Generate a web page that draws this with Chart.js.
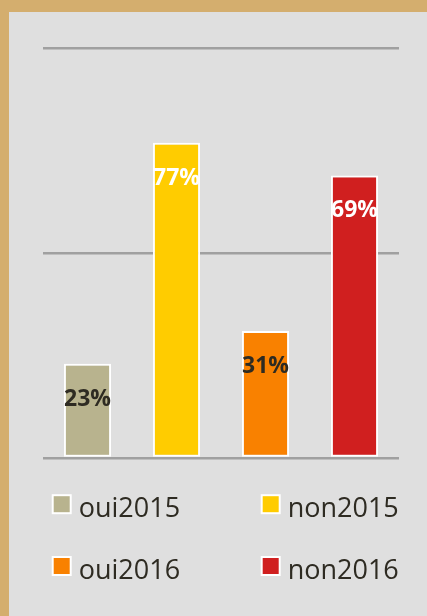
<!DOCTYPE html>
<html lang="fr">
<head>
    <meta charset="UTF-8">
    <title>oui / non 2015-2016</title>
    <style>
        html, body {
            margin: 0;
            padding: 0;
            background: #D4AE6E;
        }

        #frame {
            position: absolute;
            left: 9px;
            top: 12px;
            width: 418px;
            height: 604px;
            background: #DFDFDF;
        }
    </style>
</head>
<body>
    <div id="frame">
        <canvas id="chart" width="418" height="604"></canvas>
    </div>

    <script src="https://cdn.jsdelivr.net/npm/chart.js"></script>
    <script>
        const series = ["oui2015", "non2015", "oui2016", "non2016"];
        const values = [23, 77, 31, 69];
        const colors = ["#B8B38E", "#FFCC00", "#F98100", "#D01F1F"];
        const labelColors = ["#2E2B22", "#FFFFFF", "#2E2B22", "#FFFFFF"];

        // percentage labels inside the bars
        const barLabels = {
            id: "barLabels",
            afterDatasetsDraw(chart) {
                const ctx = chart.ctx;
                const meta = chart.getDatasetMeta(0);
                ctx.save();
                ctx.font = "bold 23px 'Open Sans'";
                ctx.textAlign = "center";
                ctx.textBaseline = "alphabetic";
                meta.data.forEach((bar, i) => {
                    ctx.fillStyle = labelColors[i];
                    ctx.fillText(values[i] + "%", bar.x, bar.y + 42);
                });
                ctx.restore();
            }
        };

        // two-column legend under the plot
        const gridLegend = {
            id: "gridLegend",
            afterDraw(chart) {
                const ctx = chart.ctx;
                const cols = [42.7, 251.7];
                const rows = [504.7, 566.5];
                ctx.save();
                ctx.font = "27px 'Open Sans'";
                ctx.textBaseline = "alphabetic";
                series.forEach((name, i) => {
                    const x = cols[i % 2];
                    const base = rows[Math.floor(i / 2)];
                    const top = base - 22.5;
                    ctx.fillStyle = "#FFFFFF";
                    ctx.fillRect(x, top, 20, 20);
                    ctx.fillStyle = colors[i];
                    ctx.fillRect(x + 2, top + 2, 16, 16);
                    ctx.fillStyle = "#2E2B22";
                    ctx.fillText(name, x + 27, base);
                });
                ctx.restore();
            }
        };

        new Chart(document.getElementById("chart"), {
            type: "bar",
            data: {
                labels: series,
                datasets: [{
                    data: values,
                    backgroundColor: colors,
                    borderColor: "#FFFFFF",
                    borderWidth: 2,
                    borderSkipped: false,
                    barPercentage: 0.53,
                    categoryPercentage: 1
                }]
            },
            options: {
                responsive: false,
                animation: false,
                layout: {
                    padding: { left: 34, right: 28, top: 36.5, bottom: 158 }
                },
                plugins: {
                    legend: { display: false },
                    tooltip: { enabled: false }
                },
                scales: {
                    x: { display: false },
                    y: {
                        min: 0,
                        max: 100,
                        ticks: { display: false, stepSize: 50 },
                        border: { display: false },
                        grid: { color: "#A0A0A0", lineWidth: 2.5, drawTicks: false }
                    }
                }
            },
            plugins: [barLabels, gridLegend]
        });
    </script>
</body>
</html>
